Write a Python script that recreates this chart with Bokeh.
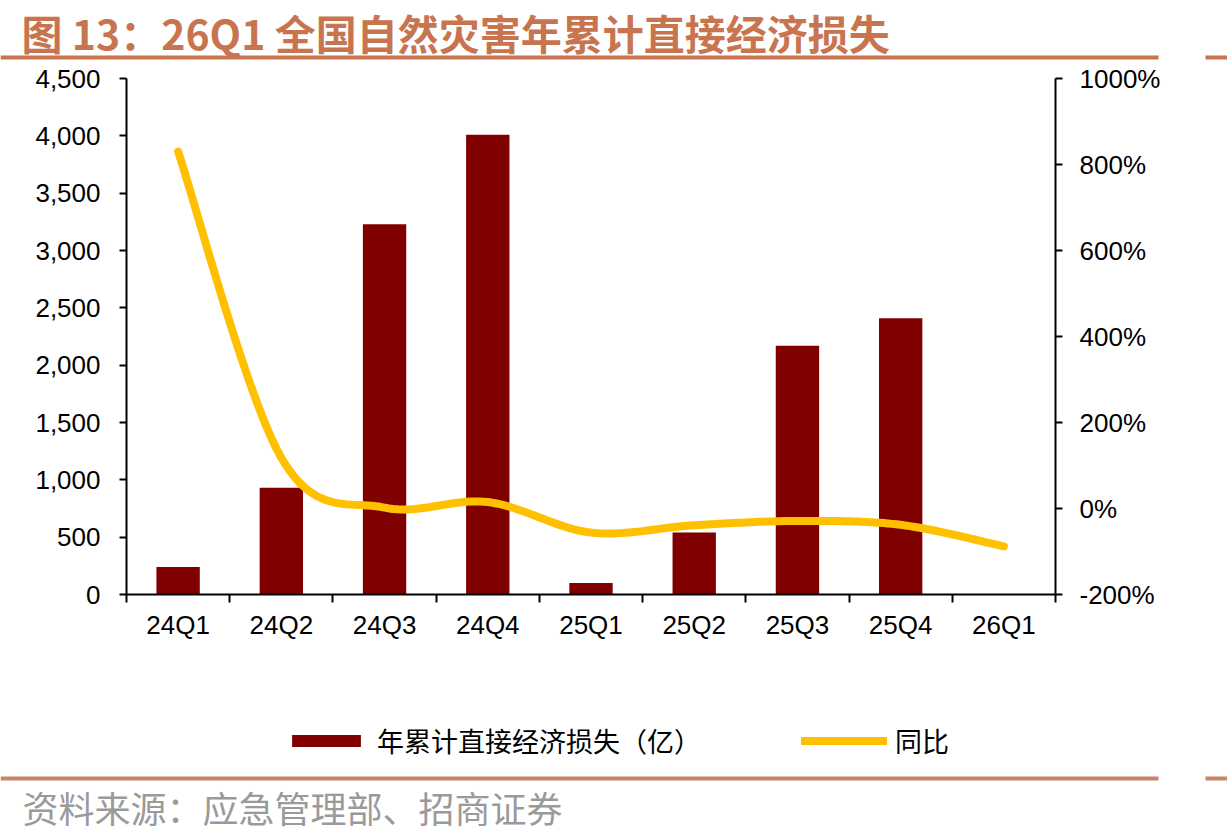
import numpy as np
from bokeh.plotting import figure
from bokeh.models import (ColumnDataSource, Range1d, LinearAxis, FixedTicker,
                          NumeralTickFormatter, Legend, LegendItem)
from bokeh.layouts import column
from bokeh.core.properties import value
from bokeh.embed import file_html
from bokeh.resources import INLINE

# ---------------- data ----------------
categories = ["24Q1", "24Q2", "24Q3", "24Q4", "25Q1", "25Q2", "25Q3", "25Q4", "26Q1"]
loss = [240, 930, 3230, 4010, 100, 540, 2170, 2410, float("nan")]       # 亿元
yoy_pct = [830, 118, 2, 15, -56, -39, -29, -38, -88]                   # %
left_ticks = [0, 500, 1000, 1500, 2000, 2500, 3000, 3500, 4000, 4500]
right_ticks = [-2, 0, 2, 4, 6, 8, 10]

title_text = "图 13：26Q1 全国自然灾害年累计直接经济损失"
source_text = "资料来源：应急管理部、招商证券"
bar_label = "年累计直接经济损失（亿）"
line_label = "同比"

BAR_COLOR = "#800000"
LINE_COLOR = "#FFC000"
ACCENT = "#C8754F"
W = 1227
LAT = "Liberation Sans"
CJK = "Noto Sans CJK SC"

# ---------------- smoothing (Excel-like Catmull-Rom bezier) ----------------
def smooth(xs, ys, n=24):
    xs = np.asarray(xs, float); ys = np.asarray(ys, float)
    px = np.concatenate([[xs[0]], xs, [xs[-1]]])
    py = np.concatenate([[ys[0]], ys, [ys[-1]]])
    outx, outy = [], []
    for i in range(1, len(px) - 2):
        p0 = np.array([px[i], py[i]]); p3 = np.array([px[i + 1], py[i + 1]])
        c1 = p0 + (np.array([px[i + 1], py[i + 1]]) - np.array([px[i - 1], py[i - 1]])) / 6.0
        c2 = p3 - (np.array([px[i + 2], py[i + 2]]) - np.array([px[i], py[i]])) / 6.0
        t = np.linspace(0, 1, n, endpoint=(i == len(px) - 3))
        b = ((1 - t) ** 3)[:, None] * p0 + (3 * (1 - t) ** 2 * t)[:, None] * c1 \
            + (3 * (1 - t) * t ** 2)[:, None] * c2 + (t ** 3)[:, None] * p3
        outx.extend(b[:, 0]); outy.extend(b[:, 1])
    return outx, outy

xc = [i + 0.5 for i in range(len(categories))]
yoy_frac = [v / 100.0 for v in yoy_pct]
sx, sy = smooth(xc, yoy_frac)

# ---------------- title strip ----------------
H_T = 62
t = figure(width=W, height=H_T, x_range=Range1d(0, W), y_range=Range1d(H_T, 0),
           x_axis_type=None, y_axis_type=None, toolbar_location=None,
           output_backend="svg", min_border=0, outline_line_color=None, frame_align=False)
t.grid.visible = False
t.text(x=[21], y=[31], text=[title_text], text_font=value(CJK), text_font_size="41px",
       text_font_style="bold", text_color=ACCENT, text_baseline="middle", text_align="left")
t.segment(x0=[0, 1205], y0=[57, 57], x1=[1158, W], y1=[57, 57], line_color=ACCENT, line_width=4)

# ---------------- main chart ----------------
FRAME_TOP, FRAME_BOTTOM = 78, 594
MAIN_BOTTOM = 690
H_M = MAIN_BOTTOM - H_T
p = figure(width=W, height=H_M, x_range=Range1d(0, len(categories)), y_range=Range1d(0, 4500),
           x_axis_type=None, y_axis_type=None, toolbar_location=None, output_backend="svg",
           min_border_left=126, min_border_right=W - 1055, min_border_top=FRAME_TOP - H_T,
           min_border_bottom=MAIN_BOTTOM - FRAME_BOTTOM, outline_line_color=None, frame_align=False)
p.extra_y_ranges = {"pct": Range1d(-2, 10)}
p.grid.visible = False

src = ColumnDataSource(dict(x=xc, loss=loss, cat=categories))
bars = p.vbar(x="x", top="loss", width=0.42, source=src, fill_color=BAR_COLOR, line_color=None)
line = p.line(x=sx, y=sy, y_range_name="pct", line_color=LINE_COLOR, line_width=8,
              line_cap="round", line_join="round")

def style_axis(ax):
    ax.axis_line_color = "black"
    ax.axis_line_width = 2
    ax.major_tick_line_color = "black"
    ax.major_tick_line_width = 2
    ax.minor_tick_line_color = None
    ax.major_tick_in = 0
    ax.major_tick_out = 7
    ax.major_label_text_font = LAT
    ax.major_label_text_font_size = "26px"
    ax.major_label_text_color = "black"

xaxis = LinearAxis(ticker=FixedTicker(ticks=xc, minor_ticks=list(range(len(categories) + 1))),
                   major_label_overrides={x: c for x, c in zip(xc, categories)})
style_axis(xaxis)
xaxis.major_tick_out = 0
xaxis.minor_tick_line_color = "black"
xaxis.minor_tick_line_width = 2
xaxis.minor_tick_in = 0
xaxis.minor_tick_out = 8
xaxis.major_label_standoff = 7
p.add_layout(xaxis, "below")

yl = LinearAxis(ticker=FixedTicker(ticks=left_ticks), formatter=NumeralTickFormatter(format="0,0"))
style_axis(yl)
yl.major_label_standoff = 19
p.add_layout(yl, "left")

yr = LinearAxis(y_range_name="pct", ticker=FixedTicker(ticks=right_ticks),
                formatter=NumeralTickFormatter(format="0%"))
style_axis(yr)
yr.major_label_standoff = 17
p.add_layout(yr, "right")

# ---------------- footer: legend, rule, source ----------------
H_F = 839 - MAIN_BOTTOM
f = figure(width=W, height=H_F, x_range=Range1d(0, W), y_range=Range1d(H_F, 0),
           x_axis_type=None, y_axis_type=None, toolbar_location=None,
           output_backend="svg", min_border=0, outline_line_color=None, frame_align=False)
f.grid.visible = False
# legend proxies (styled like the chart's series, kept outside the visible range)
lb = f.vbar(x=[-100], top=[0], width=1, fill_color=BAR_COLOR, line_color=None)
ll = f.line(x=[-100, -90], y=[0, 0], line_color=LINE_COLOR, line_width=8, line_cap="round")
leg = Legend(items=[LegendItem(label=bar_label, renderers=[lb]),
                    LegendItem(label=line_label, renderers=[ll])],
             orientation="horizontal", location=(283, H_F - 70),
             glyph_width=86, glyph_height=15, label_height=30, label_standoff=8, spacing=100,
             padding=0, margin=0, border_line_color=None, background_fill_alpha=0,
             label_text_font=CJK, label_text_font_size="27px", label_text_color="black")
f.add_layout(leg, "center")
f.segment(x0=[0, 1205], y0=[88, 88], x1=[1158, W], y1=[88, 88], line_color="#C98467", line_width=4)
f.text(x=[22], y=[116], text=[source_text], text_font=value(CJK), text_font_size="36px",
       text_color="#9A9A9A", text_baseline="middle", text_align="left")

layout = column(t, p, f, spacing=0)
open("out.html", "w").write(file_html(layout, INLINE))
